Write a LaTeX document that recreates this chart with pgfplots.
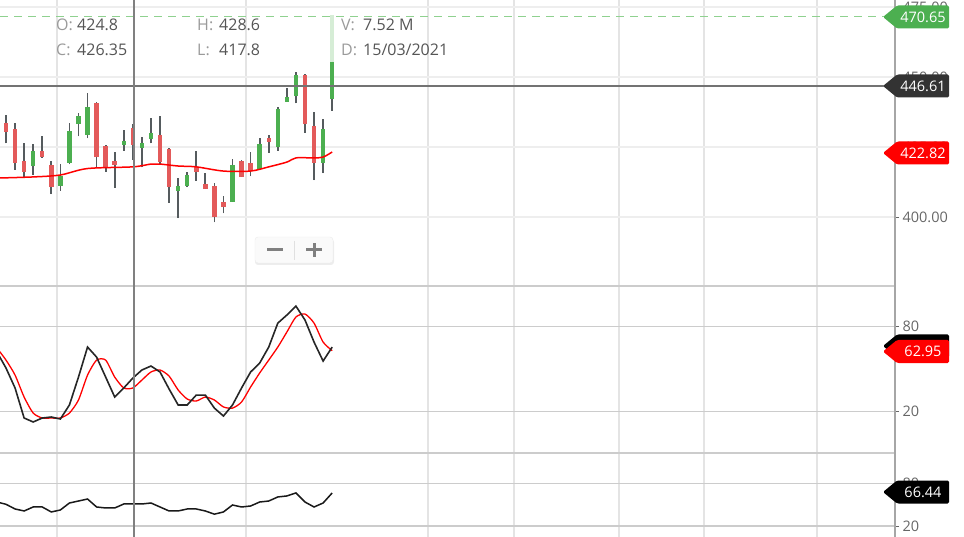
\documentclass[border=0pt]{standalone}
\usepackage{pgfplots}
\usepackage{pgfplotstable}
\pgfplotsset{compat=1.18}
\usepackage{fontspec}
\setmainfont{Open Sans}

\definecolor{upg}{HTML}{4CAF50}
\definecolor{dnr}{HTML}{E35A5A}
\definecolor{wick}{HTML}{555B5E}
\definecolor{gridv}{HTML}{E4E4E4}
\definecolor{gridp}{HTML}{EEEEEE}
\definecolor{sepc}{HTML}{CCCCCC}
\definecolor{tickc}{HTML}{666666}
\definecolor{infol}{HTML}{9A9A9A}
\definecolor{infov}{HTML}{555555}
\definecolor{tagd}{HTML}{333333}
\definecolor{fadeg}{HTML}{D6EDD6}
\definecolor{dashg}{HTML}{8FD18F}

% candles: index, open, high, low, close
\pgfplotstableread{
i o h l c
0 433.6 436.4 426.4 430.4
1 431.4 433.6 416.8 419.3
2 420.0 426.4 414.3 416.1
4 423.6 428.9 421.1 421.4
5 418.6 420.0 408.2 410.7
10 440.7 441.0 417.9 421.4
11 425.4 425.6 416.1 417.5
12 420.0 423.2 410.4 418.6
14 431.8 433.2 420.4 425.7
17 429.3 436.1 418.6 419.6
18 424.3 424.5 405.0 410.7
21 417.9 423.6 412.9 416.1
22 411.8 415.7 410.0 410.0
23 411.1 412.1 398.2 400.0
24 405.4 407.5 401.4 403.6
26 420.0 420.2 414.3 414.3
27 419.3 423.2 414.6 416.4
29 428.2 429.3 422.9 426.8
33 450.7 450.9 430.0 433.2
34 432.5 437.5 413.2 419.3
}\downc
\pgfplotstableread{
i o h l c
3 418.2 426.1 415.0 423.6
6 411.1 418.9 409.3 414.6
7 419.3 433.6 418.9 430.7
8 433.2 437.1 428.9 436.1
9 429.3 444.3 428.2 439.3
13 425.7 431.1 423.6 427.1
15 424.8 428.6 417.8 426.35
16 427.9 435.4 426.4 430.0
19 409.3 413.9 399.6 411.1
20 411.1 416.1 410.7 415.0
25 405.4 420.7 405.4 418.6
28 417.1 428.2 417.1 426.1
30 425.0 439.3 423.6 438.6
31 441.1 446.1 441.1 442.9
32 443.2 451.8 440.7 450.7
35 419.3 435.0 415.7 431.4
36 442.1 455.4 437.9 455.4
}\upc
\pgfplotstableread{
i lo hi
36 455.4 472.0
}\livec
\pgfplotstableread{
i v
-1 413.9
3 414.3
6 415.0
9 417.3
14 417.9
16 418.9
17 418.9
19 418.2
21 417.9
24 416.4
27 416.4
29 417.9
31 419.6
32 421.1
34 421.1
35 421.4
36 423.2
}\ma
\pgfplotstableread{
i k d
-1 62.0 64.8
0 50.7 56.3
1 36.6 45.7
2 15.4 30.2
3 12.6 18.9
4 15.4 15.4
5 16.1 15.4
6 14.7 15.4
7 24.6 18.9
8 44.3 28.1
9 65.5 45.7
10 58.4 56.3
11 44.3 56.3
12 30.2 44.3
13 36.6 36.6
14 43.6 36.6
15 49.3 42.2
16 52.1 47.9
17 47.9 49.3
18 35.9 45.0
19 24.6 35.2
20 24.6 28.8
21 31.6 27.4
22 31.6 30.2
23 22.4 28.1
24 16.8 23.2
25 24.6 22.4
26 36.6 26.7
27 47.9 37.3
28 54.2 47.2
29 65.5 56.3
30 82.4 65.5
31 88.1 76.1
32 94.4 86.7
33 84.6 88.8
34 69.0 82.4
35 55.6 69.0
36 65.5 62.95
}\stoch
\pgfplotstableread{
i v
-1 53.7
0 50.5
1 43.9
2 41.1
3 46.7
4 46.7
5 39.7
6 42.5
7 52.3
8 55.1
9 57.9
10 46.7
11 45.3
12 45.3
13 50.9
14 50.9
15 50.9
16 52.3
17 46.7
18 41.1
19 41.1
20 43.9
21 43.9
22 41.1
23 36.6
24 39.7
25 49.5
26 46.7
27 48.1
28 53.7
29 55.1
30 60.8
31 62.2
32 66.4
33 53.7
34 46.7
35 52.3
36 66.44
}\rsi

\newcommand\tagfont{\fontsize{14.5}{15}\selectfont}
\newcommand\infofont{\fontsize{16}{17}\selectfont}
% price tag on the right scale: y position, colour, text
\newcommand\ptag[3]{%
  \begin{scope}[yshift=-#1pt]
    \fill[#2, rounded corners=1.5pt] (883,0) -- (897,11.5) -- (949,11.5) -- (949,-11.5) -- (897,-11.5) -- cycle;
    \node[text=white, font=\tagfont, inner sep=0] at (923,0) {#3};
  \end{scope}}

\pgfplotsset{
  panel/.style={
    scale only axis, width=895pt,
    xmin=-0.662, xmax=98.12,
    axis line style={draw=none},
    xtick={5.63,26.49,46.58,56.07,67.66,77.04,89.51},
    xticklabels={}, xtick style={draw=none},
    xmajorgrids, ymajorgrids,
    x grid style={gridv, line width=1.5pt},
    y grid style={sepc, line width=1.2pt},
    ytick pos=right, yticklabel pos=right,
    tick align=outside, major tick length=4pt,
    ytick style={tickc, line width=0.8pt},
    yticklabel style={font=\tagfont, text=tickc},
  },
  wicks/.style={only marks, mark size=0pt, mark options={draw=none, fill=none}, forget plot,
    error bars/.cd, y dir=plus, y explicit, error mark=none,
    error bar style={line width=1.7pt, draw=wick}},
  bodies/.style={only marks, mark size=0pt, mark options={draw=none, fill=none}, forget plot,
    error bars/.cd, y dir=plus, y explicit, error mark=none,
    error bar style={line width=4.5pt, draw=#1}},
}

\begin{document}
\begin{tikzpicture}[x=1pt, y=1pt]
\path[use as bounding box] (0,0) rectangle (964,-537);

% price panel
\begin{axis}[panel, at={(0pt,0pt)}, anchor=north west, height=285pt,
  ymin=375.7, ymax=477.5,
  ytick={400,425,450,475}, yticklabels={400.00,425.00,450.00,475.00},
  y grid style={gridp, line width=1.2pt}]
  \addplot[wicks] table[x=i, y=l, y error expr=\thisrow{h}-\thisrow{l}] {\downc};
  \addplot[wicks] table[x=i, y=l, y error expr=\thisrow{h}-\thisrow{l}] {\upc};
  \addplot[bodies=dnr] table[x=i, y=c, y error expr=\thisrow{o}-\thisrow{c}] {\downc};
  \addplot[bodies=upg] table[x=i, y=o, y error expr=\thisrow{c}-\thisrow{o}] {\upc};
  \addplot[bodies=fadeg] table[x=i, y=lo, y error expr=\thisrow{hi}-\thisrow{lo}] {\livec};
  \addplot[red, line width=1.5pt, smooth, tension=0.5, mark=none] table[x=i, y=v] {\ma};
\end{axis}

% stochastic panel
\begin{axis}[panel, at={(0pt,-286pt)}, anchor=north west, height=167pt,
  ymin=-9.3, ymax=108.6, ytick={20,80}, yticklabels={20,80}]
  \addplot[red, line width=1.3pt, smooth, tension=0.4, mark=none] table[x=i, y=d] {\stoch};
  \addplot[black!85, line width=1.6pt, mark=none] table[x=i, y=k] {\stoch};
\end{axis}

% lower oscillator panel
\begin{axis}[panel, at={(0pt,-453pt)}, anchor=north west, height=84pt,
  ymin=4.5, ymax=122.6, ytick={20,80}, yticklabels={20,80}]
  \addplot[black!90, line width=1.5pt, mark=none] table[x=i, y=v] {\rsi};
\end{axis}

% separators, right scale line, crosshair
\draw[sepc, line width=1.5pt] (0,-286) -- (895,-286);
\draw[sepc, line width=1.5pt] (0,-453) -- (895,-453);
\draw[black!35, line width=1.5pt] (895,0) -- (895,-537);
\draw[dashg, line width=1pt, dash pattern=on 8pt off 6pt] (0,-17) -- (885,-17);
\draw[black!55, line width=1.6pt] (0,-86) -- (885,-86);
\draw[black!50, line width=2pt] (134,0) -- (134,-537);

% candle info
\node[anchor=west, inner sep=0, text=infol, font=\infofont] at (56,-25) {O:};
\node[anchor=west, inner sep=0, text=infov, font=\infofont] at (77,-25) {424.8};
\node[anchor=west, inner sep=0, text=infol, font=\infofont] at (56,-50) {C:};
\node[anchor=west, inner sep=0, text=infov, font=\infofont] at (77,-50) {426.35};
\node[anchor=west, inner sep=0, text=infol, font=\infofont] at (197,-25) {H:};
\node[anchor=west, inner sep=0, text=infov, font=\infofont] at (219,-25) {428.6};
\node[anchor=west, inner sep=0, text=infol, font=\infofont] at (197,-50) {L:};
\node[anchor=west, inner sep=0, text=infov, font=\infofont] at (219,-50) {417.8};
\node[anchor=west, inner sep=0, text=infol, font=\infofont] at (341,-25) {V:};
\node[anchor=west, inner sep=0, text=infov, font=\infofont] at (363,-25) {7.52 M};
\node[anchor=west, inner sep=0, text=infol, font=\infofont] at (341,-50) {D:};
\node[anchor=west, inner sep=0, text=infov, font=\infofont] at (363,-50) {15/03/2021};

% zoom buttons
\fill[black!7, rounded corners=3pt] (255,-239) rectangle (334,-265);
\fill[black!2, draw=black!8, rounded corners=3pt] (255,-237) rectangle (333,-263);
\draw[black!12, line width=1pt] (294,-241) -- (294,-260);
\fill[black!50] (267,-248.5) rectangle (283,-251.5);
\fill[black!50] (306,-248.5) rectangle (322,-251.5);
\fill[black!50] (312.5,-243) rectangle (315.5,-257);

% value tags
\ptag{17}{upg}{470.65}
\ptag{86}{tagd}{446.61}
\ptag{153}{red}{422.82}
\ptag{346}{black}{}
\ptag{351.5}{red}{62.95}
\ptag{492}{black}{66.44}
\end{tikzpicture}
\end{document}
